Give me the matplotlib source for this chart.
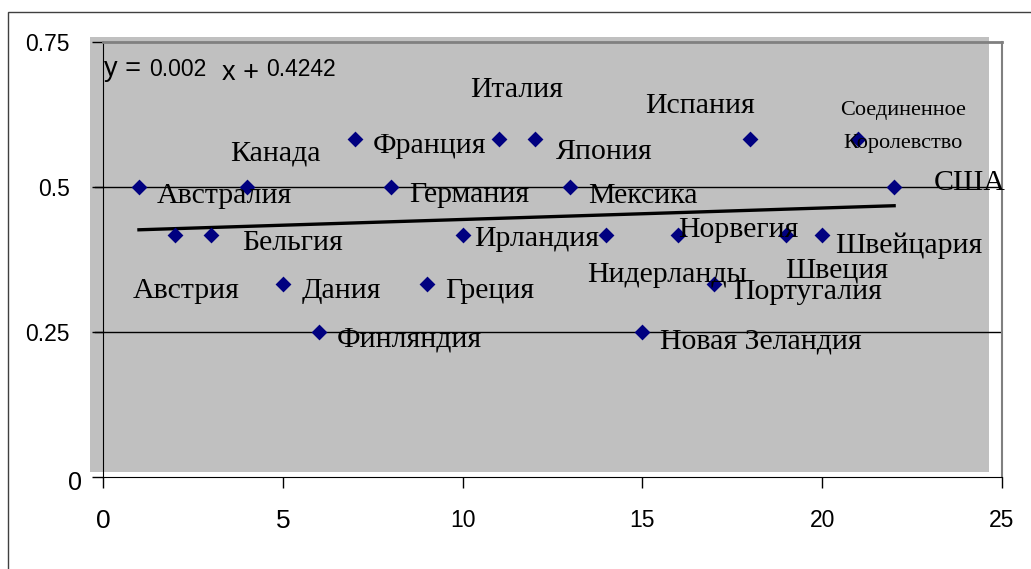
import matplotlib.pyplot as plt
import matplotlib.patches as mpatches
import matplotlib.transforms as mtransforms
import numpy as np

# data: country index and share
countries = [
    "Австралия", "Австрия", "Бельгия", "Канада", "Дания", "Финляндия",
    "Франция", "Германия", "Греция", "Ирландия", "Италия", "Япония",
    "Мексика", "Нидерланды", "Новая Зеландия", "Норвегия", "Португалия",
    "Испания", "Швеция", "Швейцария", "Соединенное\nКоролевство", "США",
]
x_values = list(range(1, 23))
y_values = [
    0.5, 0.4167, 0.4167, 0.5, 0.3333, 0.25,
    0.5833, 0.5, 0.3333, 0.4167, 0.5833, 0.5833,
    0.5, 0.4167, 0.25, 0.4167, 0.3333,
    0.5833, 0.4167, 0.4167, 0.5833, 0.5,
]
trend_slope_text = "0.002"
trend_intercept_text = "0.4242"

# label offsets in pixels (dx, dy up) from each point
label_offsets = {
    "Австралия": (18, -16), "Австрия": (-42, -63), "Бельгия": (31, -15),
    "Канада": (-17, 26), "Дания": (19, -14), "Финляндия": (18, -14),
    "Франция": (18, -14), "Германия": (18, -15), "Греция": (18, -14),
    "Ирландия": (12, -11), "Италия": (-28, 42), "Япония": (21, -20),
    "Мексика": (18, -16), "Нидерланды": (-19, -47), "Новая Зеландия": (18, -16),
    "Норвегия": (0, -2), "Португалия": (19, -15), "Испания": (-105, 26),
    "Швеция": (-1, -42), "Швейцария": (13, -18), "США": (40, -3),
    "Соединенное\nКоролевство": (45, -9),
}

W, H = 1031, 569
fig = plt.figure(figsize=(W / 100, H / 100), dpi=100)
ax = fig.add_axes([103 / W, 1 - 477 / H, (1002 - 103) / W, (477 - 42) / H])

# outer frame (only top and left visible)
fig.add_artist(mpatches.Rectangle((8 / W, -0.1), 1.2, 1 - 12 / H + 0.1,
                                  transform=fig.transFigure, fill=False,
                                  edgecolor="#404040", lw=1))

# shifted grey plot area
shift = mtransforms.offset_copy(ax.transAxes, fig=fig, x=-13, y=5.5, units="dots")
ax.add_patch(mpatches.Rectangle((0, 0), 1, 1, transform=shift, facecolor="#c0c0c0",
                                edgecolor="none", clip_on=False, zorder=0))

ax.set_xlim(0, 25)
ax.set_ylim(0, 0.75)
ax.set_xticks([0, 5, 10, 15, 20, 25])
ax.set_yticks([0, 0.25, 0.5, 0.75])
ax.tick_params(axis="both", direction="out", length=8, width=1, color="black")
ax.tick_params(axis="x", pad=15)
ax.tick_params(axis="y", pad=16)
ax.set_xticklabels(["0", "5", "10", "15", "20", "25"], family="Liberation Sans")
ax.set_yticklabels(["0", "0.25", "0.5", "0.75"], family="Liberation Sans")
for lab in ax.get_xticklabels():
    lab.set_fontsize(19 if lab.get_text() in ("0", "5") else 16.5)
for lab in ax.get_yticklabels():
    lab.set_fontsize(18 if lab.get_text() == "0" else 16.5)
    if lab.get_text() == "0":
        lab.set_transform(lab.get_transform() +
                          mtransforms.ScaledTranslation(12 / 100, -3 / 100,
                                                        fig.dpi_scale_trans))

for y in [0.25, 0.5]:
    ax.axhline(y, color="black", lw=1, zorder=1)
    ax.plot([-8 / 35.96, 0], [y, y], color="black", lw=1, clip_on=False)

ax.spines["left"].set_color("black")
ax.spines["bottom"].set_color("black")
ax.spines["top"].set_color("#808080")
ax.spines["right"].set_color("#808080")
ax.spines["top"].set_linewidth(2)
ax.spines["right"].set_linewidth(1.5)
ax.patch.set_facecolor("white")

# trend line
coef = np.polyfit(x_values, y_values, 1)
xt = np.array([min(x_values), max(x_values)])
ax.plot(xt, np.polyval(coef, xt), color="black", lw=2.4, zorder=2)

ax.scatter(x_values, y_values, marker="D", s=65, color="#000080", zorder=3,
           linewidths=0)

for name, xv, yv in zip(countries, x_values, y_values):
    dx, dy = label_offsets[name]
    if "\n" in name:
        ax.annotate(name, (xv, yv), xytext=(dx, dy), textcoords="offset pixels",
                    ha="center", va="baseline", family="Liberation Serif",
                    fontsize=16, linespacing=2.0, zorder=4)
    else:
        ax.annotate(name, (xv, yv), xytext=(dx, dy), textcoords="offset pixels",
                    ha="left", va="baseline", family="Liberation Serif",
                    fontsize=21.5, zorder=4)

# trend equation
eq_parts = [("y = ", 104, 76, 19.5), (trend_slope_text, 149, 76, 16.5),
            ("x + ", 222, 80, 19.5), (trend_intercept_text, 266, 76, 16.5)]
for txt, px, py, fs in eq_parts:
    fig.text(px / W, 1 - py / H, txt, ha="left", va="baseline",
             family="Liberation Sans", fontsize=fs)

fig.savefig("out.png", dpi=100)
